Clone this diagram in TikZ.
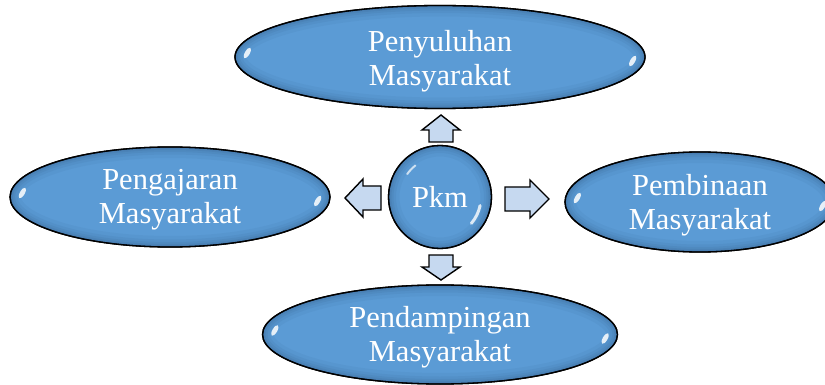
\documentclass[tikz,border=0pt]{standalone}
\usepackage{fontspec}
\setmainfont{Liberation Serif}
\usetikzlibrary{calc,shapes.geometric}
\definecolor{eblue}{RGB}{91,155,213}
\definecolor{edark}{RGB}{30,60,100}
\definecolor{afill}{RGB}{198,217,240}
\newcommand\softrim[1]{%
  \draw[edark, opacity=.05, line width=22pt] #1;
  \draw[edark, opacity=.06, line width=15pt] #1;
  \draw[edark, opacity=.07, line width=10pt] #1;
  \draw[edark, opacity=.08, line width=6pt] #1;
  \draw[edark, opacity=.09, line width=3pt] #1;
}
\newcommand\mkblob[7]{%
  \node[blob, minimum width={2*#4}, minimum height={2*#5}] (#1) at (#2,#3) {};
  \begin{scope}
    \clip (#2,#3) ellipse [x radius=#4, y radius=#5];
    \softrim{(#2,#3) ellipse [x radius=#4, y radius=#5]}
  \end{scope}
  \draw[line width=1.3pt] (#2,#3) ellipse [x radius=#4, y radius=#5];
  \fill[glint] ($(#1.west)+(13,-4)$) ellipse [x radius=6, y radius=2.4, rotate=60];
  \fill[glint] ($(#1.east)+(-13,4)$) ellipse [x radius=6, y radius=2.4, rotate=60];
  \node[lbl] (#1-t) at ([yshift=-#7pt]#1.center) {#6};
}
\begin{document}
\begin{tikzpicture}[x=1pt,y=-1pt,
  blob/.style={ellipse, draw=black, line width=1.3pt, fill=eblue, inner sep=0pt},
  lbl/.style={text=white, font=\fontsize{30.5}{34}\selectfont, align=center, inner sep=0pt},
  glint/.style={white, opacity=.85},
  barrow/.style={draw=black, line width=1.4pt, fill=afill, line join=miter}]
\useasboundingbox (0,0) rectangle (825,385);
\clip (0,0) rectangle (825,385);

\mkblob{pen}{440}{57}{205}{51.5}{Penyuluhan\\Masyarakat}{4}
\mkblob{pga}{170}{197}{160}{50}{Pengajaran\\Masyarakat}{3}
\mkblob{pbi}{700}{202}{135}{50}{Pembinaan\\Masyarakat}{3}
\mkblob{pda}{440}{334.5}{177.5}{49.5}{Pendampingan\\Masyarakat}{3}

% centre circle
\node[blob, circle, minimum size=103pt] (pkm) at (440,197) {};
\begin{scope}
  \clip (pkm.center) circle [radius=51.5];
  \softrim{(pkm.center) circle [radius=51.5]}
\end{scope}
\draw[line width=1.3pt] (pkm.center) circle [radius=51.5];
\draw[white, opacity=.8, line width=3pt, line cap=round] ($(pkm.center)+(12:41)$) arc [start angle=12, end angle=40, radius=41];
\draw[white, opacity=.7, line width=2pt, line cap=round] ($(pkm.center)+(-145:40)$) arc [start angle=-145, end angle=-128, radius=40];
\node[lbl] (pkm-t) at (pkm.center) {Pkm};

% block arrows around the centre
\begin{scope}[shift={(pkm.center)}]
  \filldraw[barrow] (1,-82) -- (20,-67) -- (13,-67) -- (13,-55) -- (-11,-55) -- (-11,-67) -- (-18,-67) -- cycle;
  \filldraw[barrow] (1,83) -- (20,70) -- (13,70) -- (13,58) -- (-11,58) -- (-11,70) -- (-18,70) -- cycle;
  \filldraw[barrow] (-95,1) -- (-77,-18) -- (-77,-11) -- (-59,-11) -- (-59,13) -- (-77,13) -- (-77,20) -- cycle;
  \filldraw[barrow] (109,2) -- (90,-17) -- (90,-10) -- (65,-10) -- (65,14) -- (90,14) -- (90,21) -- cycle;
\end{scope}
\end{tikzpicture}
\end{document}
